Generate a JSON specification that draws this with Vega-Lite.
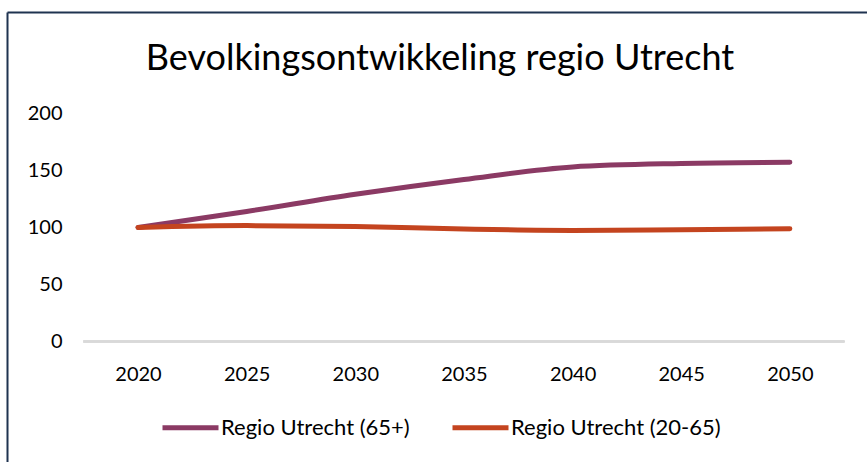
{
  "$schema": "https://vega.github.io/schema/vega-lite/v6.json",
  "autosize": {"type": "none"},
  "width": 860,
  "height": 450,
  "padding": {"left": 7, "top": 12, "right": 0, "bottom": 0},
  "background": "white",
  "config": {
    "view": {"stroke": null},
    "axis": {"grid": false, "labelFont": "Lato", "labelFontSize": 20, "labelColor": "#000000", "titleFont": "Lato"},
    "legend": {"labelFont": "Lato"}
  },
  "title": {
    "text": "Bevolkingsontwikkeling regio Utrecht",
    "font": "Lato",
    "fontSize": 36,
    "fontWeight": "normal",
    "color": "#000000",
    "anchor": "middle",
    "frame": "group",
    "offset": -66,
    "dx": 3
  },
  "data": {
    "values": [
      {"jaar": 2020, "reeks": "Regio Utrecht (65+)", "waarde": 100},
      {"jaar": 2025, "reeks": "Regio Utrecht (65+)", "waarde": 114},
      {"jaar": 2030, "reeks": "Regio Utrecht (65+)", "waarde": 129},
      {"jaar": 2035, "reeks": "Regio Utrecht (65+)", "waarde": 142},
      {"jaar": 2040, "reeks": "Regio Utrecht (65+)", "waarde": 153},
      {"jaar": 2045, "reeks": "Regio Utrecht (65+)", "waarde": 156},
      {"jaar": 2050, "reeks": "Regio Utrecht (65+)", "waarde": 157},
      {"jaar": 2020, "reeks": "Regio Utrecht (20-65)", "waarde": 100},
      {"jaar": 2025, "reeks": "Regio Utrecht (20-65)", "waarde": 101.6},
      {"jaar": 2030, "reeks": "Regio Utrecht (20-65)", "waarde": 100.8},
      {"jaar": 2035, "reeks": "Regio Utrecht (20-65)", "waarde": 98.6},
      {"jaar": 2040, "reeks": "Regio Utrecht (20-65)", "waarde": 97.4},
      {"jaar": 2045, "reeks": "Regio Utrecht (20-65)", "waarde": 97.9},
      {"jaar": 2050, "reeks": "Regio Utrecht (20-65)", "waarde": 98.8}
    ]
  },
  "resolve": {"axis": {"x": "independent"}},
  "layer": [
    {
      "mark": {"type": "rule", "color": "#d9d9d9", "strokeWidth": 2},
      "encoding": {
        "x": {
          "datum": 2017.5,
          "type": "quantitative",
          "scale": {"domain": [2013.97, 2053.55], "nice": false, "zero": false},
          "axis": {"orient": "top", "title": null, "labels": false, "ticks": false, "domain": true, "domainColor": "#1f3350", "domainWidth": 2}
        },
        "x2": {"datum": 2052.5},
        "y": {"datum": 0, "type": "quantitative"}
      }
    },
    {
      "mark": {"type": "line", "interpolate": "monotone", "strokeWidth": 5, "strokeCap": "round", "strokeJoin": "round"},
      "encoding": {
        "x": {
          "field": "jaar",
          "type": "quantitative",
          "scale": {"domain": [2013.97, 2053.55], "nice": false, "zero": false},
          "axis": {"orient": "bottom", "title": null, "values": [2020, 2025, 2030, 2035, 2040, 2045, 2050], "format": "d", "domain": false, "ticks": false, "tickSize": 0, "labelPadding": 0, "labelBaseline": "middle", "offset": -88, "labelFlush": false, "labelOverlap": false}
        },
        "y": {
          "field": "waarde",
          "type": "quantitative",
          "scale": {"domain": [-105.5, 288.7], "nice": false, "zero": false},
          "axis": {"orient": "left", "title": null, "values": [0, 50, 100, 150, 200], "domain": true, "domainColor": "#1f3350", "domainWidth": 2, "ticks": false, "tickSize": 0, "labelPadding": -55, "labelAlign": "right", "labelBaseline": "middle", "labelFlush": false, "labelOverlap": false}
        },
        "color": {
          "field": "reeks",
          "type": "nominal",
          "sort": null,
          "scale": {"domain": ["Regio Utrecht (65+)", "Regio Utrecht (20-65)"], "range": ["#8b3a64", "#c4441f"]},
          "legend": {
            "title": null,
            "orient": "none",
            "legendX": 153,
            "legendY": 385,
            "direction": "horizontal",
            "columns": 2,
            "padding": 0,
            "symbolType": "stroke",
            "symbolSize": 3136,
            "symbolStrokeWidth": 5,
            "labelFontSize": 22,
            "labelLimit": 0,
            "labelColor": "#000000",
            "labelOffset": 0,
            "columnPadding": 32
          }
        }
      }
    }
  ]
}
